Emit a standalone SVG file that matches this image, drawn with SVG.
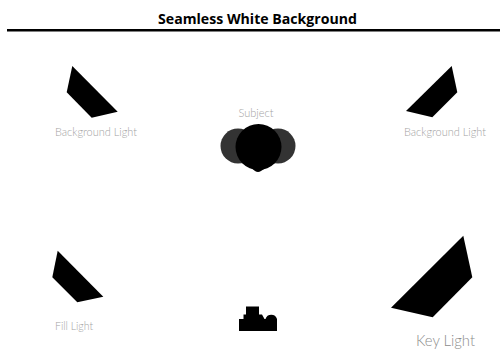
<svg xmlns="http://www.w3.org/2000/svg" width="500" height="350" viewBox="0 0 500 350">
<style>
.t{font-family:"Open Sans","Liberation Sans",sans-serif;font-weight:700;font-size:14px;fill:#000}
.l{font-family:Lato,"Liberation Sans",sans-serif;font-weight:300;font-size:11px;fill:#a3a3a3}
.k{font-size:15px;fill:#8c8c8c}
.s{fill:#000}
.b{fill:#333}
</style>
<rect width="500" height="350" fill="#fff"/>
<g id="title"><text class="t" x="257.500" y="24" text-anchor="middle" textLength="199" lengthAdjust="spacingAndGlyphs">Seamless White Background</text>
<rect x="7" y="29" width="493" height="2.500" fill="#000"/></g>
<g id="subject">
<text class="l" x="256" y="117" text-anchor="middle" textLength="35" lengthAdjust="spacingAndGlyphs">Subject</text>
<circle class="b" cx="238" cy="146" r="17.500"/><circle class="b" cx="278" cy="146" r="17.500"/>
<circle class="s" cx="258.500" cy="147" r="23"/><path class="s" d="M250 167 L255 171 Q258 173 261 171 L267 167Z"/>
</g>
<g id="bg-left"><polygon class="s" points="72.300,66 117.700,111.700 91.700,117.700 66.700,92.300"/>
<text class="l" x="96" y="136" text-anchor="middle" textLength="82" lengthAdjust="spacingAndGlyphs">Background Light</text></g>
<g id="bg-right"><polygon class="s" points="451.700,66 457.300,92.300 432.300,117.300 406,111"/>
<text class="l" x="445" y="136" text-anchor="middle" textLength="82" lengthAdjust="spacingAndGlyphs">Background Light</text></g>
<g id="fill-light"><polygon class="s" points="57.700,250.700 103.300,296.700 77.300,302.300 52.300,277.300"/>
<text class="l" x="74" y="330" text-anchor="middle" textLength="38" lengthAdjust="spacingAndGlyphs">Fill Light</text></g>
<g id="key-light"><polygon class="s" points="463.300,235.700 472.300,277.300 432.700,317.300 391,307.700"/>
<text class="l k" x="445.500" y="346" text-anchor="middle" textLength="59" lengthAdjust="spacingAndGlyphs">Key Light</text></g>
<g id="camera"><path class="s" d="M239 331 V319 H243.500 V314.500 H246 V306.500 H259 V314.500 H262 L264.500 319 H265.500 A6 6 0 0 1 277 319 V331Z"/></g>
<g id="connectors"/>
</svg>
